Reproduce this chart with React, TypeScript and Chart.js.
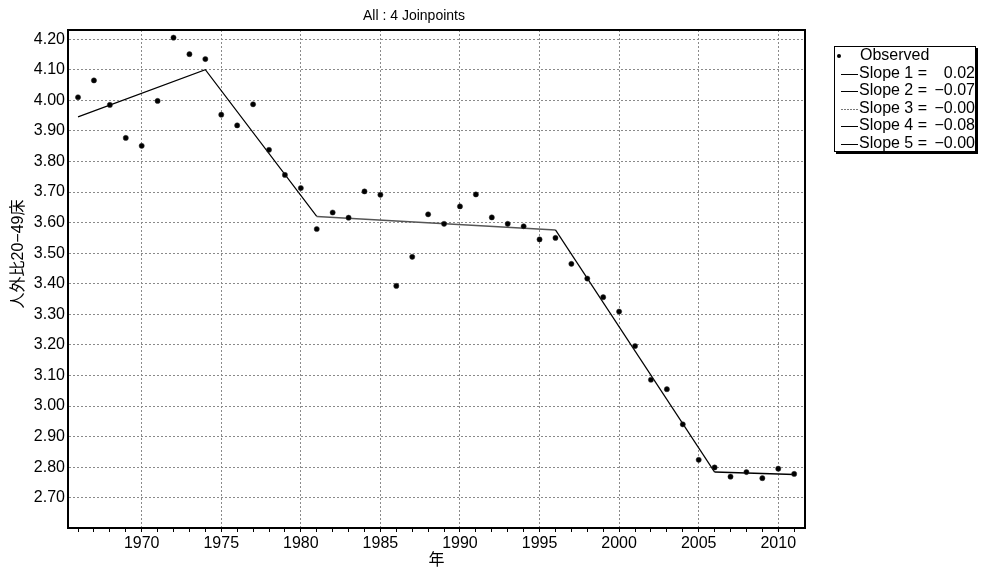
import React, { useEffect, useRef } from "react";
import { Chart, registerables } from "chart.js";

Chart.register(...registerables);

const obsYears = [
  1966, 1967, 1968, 1969, 1970, 1971, 1972, 1973, 1974, 1975, 1976, 1977, 1978, 1979, 1980,
  1981, 1982, 1983, 1984, 1985, 1986, 1987, 1988, 1989, 1990, 1991, 1992, 1993, 1994, 1995,
  1996, 1997, 1998, 1999, 2000, 2001, 2002, 2003, 2004, 2005, 2006, 2007, 2008, 2009, 2010, 2011,
];
const obsValues = [
  4.01, 4.065, 3.985, 3.877, 3.851, 3.998, 4.205, 4.151, 4.135, 3.953, 3.918, 3.987, 3.838, 3.756, 3.713,
  3.579, 3.633, 3.616, 3.702, 3.691, 3.393, 3.488, 3.627, 3.596, 3.653, 3.692, 3.617, 3.596, 3.588, 3.545,
  3.55, 3.465, 3.417, 3.356, 3.309, 3.196, 3.086, 3.055, 2.94, 2.824, 2.799, 2.769, 2.784, 2.764, 2.795, 2.778,
];
const joinYears = [1966, 1974, 1981, 1996, 2006, 2011];
const joinValues = [3.946, 4.1, 3.62, 3.576, 2.784, 2.776];

const titleText = "All : 4 Joinpoints";
const xTitle = "年";
const yTitle = "人外比20−49床";
const legendObserved = "Observed";
const slopeNames = ["Slope 1 =", "Slope 2 =", "Slope 3 =", "Slope 4 =", "Slope 5 ="];
const slopeValues = ["0.02", "−0.07", "−0.00", "−0.08", "−0.00"];

const FONT = '"Liberation Sans", Arial, "Noto Sans CJK JP", sans-serif';

const decorPlugin = {
  id: "decor",
  afterDraw(chart: any) {
    const ctx = chart.ctx;
    const a = chart.chartArea;
    ctx.save();
    // frame
    ctx.strokeStyle = "#000";
    ctx.lineWidth = 2;
    ctx.strokeRect(a.left, a.top, a.right - a.left, a.bottom - a.top);
    // title
    ctx.fillStyle = "#000";
    ctx.font = `14px ${FONT}`;
    ctx.textAlign = "center";
    ctx.textBaseline = "middle";
    ctx.fillText(titleText, 414, 16);
    // x title
    ctx.font = `16px ${FONT}`;
    ctx.fillText(xTitle, (a.left + a.right) / 2, 561);
    // y title
    ctx.save();
    ctx.translate(19, 254);
    ctx.rotate(-Math.PI / 2);
    ctx.fillText(yTitle, 0, 0);
    ctx.restore();
    // legend
    const lx = 834, ly = 46, lw = 142, lh = 106;
    ctx.fillStyle = "#000";
    ctx.fillRect(lx + 2, ly + 2, lw, lh);
    ctx.fillStyle = "#fff";
    ctx.fillRect(lx, ly, lw, lh);
    ctx.strokeStyle = "#000";
    ctx.lineWidth = 1;
    ctx.strokeRect(lx + 0.5, ly + 0.5, lw - 1, lh - 1);
    ctx.font = `16px ${FONT}`;
    ctx.textBaseline = "middle";
    ctx.fillStyle = "#000";
    ctx.textAlign = "left";
    const rowY = (i: number) => 56 + i * 17.5;
    ctx.beginPath();
    ctx.arc(839, rowY(0), 2, 0, Math.PI * 2);
    ctx.fill();
    ctx.fillText(legendObserved, 860, rowY(0));
    slopeNames.forEach((n, i) => {
      const y = rowY(i + 1);
      ctx.beginPath();
      ctx.strokeStyle = i === 2 ? "#777" : "#000";
      ctx.setLineDash(i === 2 ? [2, 1] : []);
      ctx.moveTo(841, Math.round(y) + 0.5);
      ctx.lineTo(858, Math.round(y) + 0.5);
      ctx.stroke();
      ctx.setLineDash([]);
      ctx.textAlign = "left";
      ctx.fillText(n, 859, y);
      ctx.textAlign = "right";
      ctx.fillText(slopeValues[i], 975, y);
    });
    ctx.restore();
  },
};

export default function App() {
  const ref = useRef<HTMLCanvasElement | null>(null);
  useEffect(() => {
    if (!ref.current) return;
    const chart = new Chart(ref.current, {
      type: "scatter",
      data: {
        datasets: [
          {
            label: legendObserved,
            data: obsYears.map((x, i) => ({ x, y: obsValues[i] })),
            backgroundColor: "#000",
            borderColor: "#333",
            pointRadius: 2.6,
            pointBorderWidth: 0.5,
            showLine: false,
          },
          {
            label: "Joinpoint fit",
            data: joinYears.map((x, i) => ({ x, y: joinValues[i] })),
            showLine: true,
            pointRadius: 0,
            borderColor: "#000",
            borderWidth: 1,
            segment: {
              borderColor: (c: any) => (c.p0DataIndex === 2 ? "#555" : "#000"),
              borderWidth: (c: any) => (c.p0DataIndex === 2 ? 1.6 : c.p0DataIndex === 4 ? 1.6 : 1.2),
            },
          } as any,
        ],
      },
      options: {
        responsive: false,
        animation: false,
        layout: { padding: { top: 30, right: 178, left: 0, bottom: 0 } },
        plugins: {
          legend: { display: false },
          title: { display: false },
          tooltip: { enabled: false },
        },
        scales: {
          x: {
            type: "linear",
            min: 1965.37,
            max: 2011.68,
            afterFit: (s: any) => {
              s.height = 40;
            },
            border: { display: true, color: "#000", width: 2, dash: [2, 2] },
            grid: {
              color: (c: any) => (c.tick && Math.round(c.tick.value) % 5 === 0 ? "#8a8a8a" : "rgba(0,0,0,0)"),
              tickColor: "#000",
              tickLength: 4,
              tickBorderDash: [],
              drawTicks: true,
              lineWidth: 1,
            },
            ticks: {
              stepSize: 1,
              includeBounds: false,
              autoSkip: false,
              maxRotation: 0,
              padding: 2,
              color: "#000",
              font: { family: FONT, size: 16 },
              callback: (v: any) => (Math.round(v) % 5 === 0 ? String(Math.round(v)) : ""),
            },
          },
          y: {
            type: "linear",
            min: 2.601,
            max: 4.23,
            afterFit: (s: any) => {
              s.width = 68;
            },
            border: { display: true, color: "#000", width: 2, dash: [2, 2] },
            grid: {
              color: "#8a8a8a",
              drawTicks: false,
              lineWidth: 1,
            },
            ticks: {
              stepSize: 0.1,
              includeBounds: false,
              padding: 3,
              color: "#000",
              font: { family: FONT, size: 16 },
              callback: (v: any) => Number(v).toFixed(2),
            },
          },
        },
      },
      plugins: [decorPlugin],
    });
    return () => chart.destroy();
  }, []);
  return (
    <div style={{ position: "fixed", left: 0, top: 0, width: 983, height: 568, background: "#fff" }}>
      <canvas ref={ref} width={983} height={568} style={{ width: 983, height: 568 }} />
    </div>
  );
}
